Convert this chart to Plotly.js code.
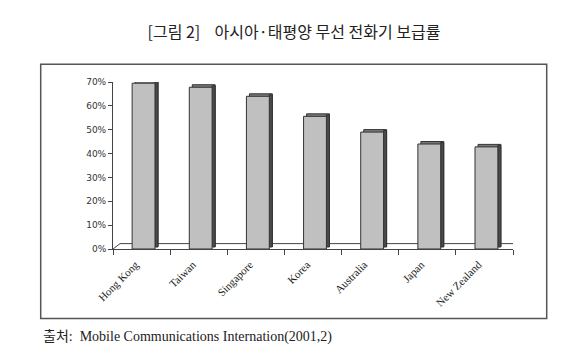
<!DOCTYPE html>
<html>
<head>
<meta charset="utf-8">
<script src="https://cdn.plot.ly/plotly-3.0.1.min.js"></script>
<style>
html,body{margin:0;padding:0;background:#fff;}
#chart{width:569px;height:363px;}
</style>
</head>
<body>
<div id="chart"></div>
<script>
const categories = ["Hong Kong", "Taiwan", "Singapore", "Korea", "Australia", "Japan", "New Zealand"];
const values = [0.695, 0.678, 0.640, 0.556, 0.490, 0.440, 0.428];
const yTickVals = [0, 0.1, 0.2, 0.3, 0.4, 0.5, 0.6, 0.7];
const yTickText = ["0%", "10%", "20%", "30%", "40%", "50%", "60%", "70%"];
const titleText = "[그림 2]\u00a0\u00a0\u00a0 아시아·태평양 무선 전화기 보급률";
const sourceText = "출처:\u00a0 Mobile Communications Internation(2001,2)";

// 3D look parameters (in axis units)
const barW = 0.4, barOff = -0.165;
const depthX = 0.053, depthY = 0.0105;

const topFace = {
  type: "bar", x: categories, y: values, base: depthY,
  offset: barOff + depthX, width: barW,
  marker: {color: "#7a7a7a", line: {color: "#333", width: 1}},
  hoverinfo: "skip", showlegend: false
};
const sideFace = {
  type: "bar", x: categories, y: values.map(v => v - depthY * 0.2), base: depthY * 0.8,
  offset: barOff + barW, width: depthX,
  marker: {color: "#4a4a4a", line: {color: "#333", width: 1}},
  hoverinfo: "skip", showlegend: false
};
const frontFace = {
  type: "bar", x: categories, y: values, base: 0,
  offset: barOff, width: barW,
  marker: {color: "#c0c0c0", line: {color: "#333", width: 1}},
  showlegend: false
};

const n = categories.length;
const floorDX = 0.1225, floorDY = 0.0226;
const floorPath = `M -0.5,0 L ${-0.5 + floorDX},${floorDY} L ${n - 0.5 + floorDX},${floorDY} L ${n - 0.5},0`;

const layout = {
  width: 569, height: 363,
  margin: {l: 113, r: 56, t: 82, b: 114},
  paper_bgcolor: "#fff", plot_bgcolor: "rgba(0,0,0,0)",
  barmode: "overlay",
  title: {
    text: titleText,
    font: {family: "Noto Sans CJK KR", size: 16, color: "#222"},
    x: 294 / 569, xanchor: "center", xref: "container",
    y: 1 - 32 / 363, yanchor: "middle", yref: "container"
  },
  xaxis: {
    type: "category", range: [-0.5, n - 0.5],
    showline: true, linecolor: "#444", linewidth: 1,
    ticks: "outside", tickson: "boundaries", ticklen: 5, tickcolor: "#444",
    tickangle: -45, showgrid: false, zeroline: false,
    ticklabelshift: -6, ticklabelstandoff: 4,
    tickfont: {family: "Liberation Serif", size: 11, color: "#222"},
    fixedrange: true
  },
  yaxis: {
    range: [0, 0.7],
    tickvals: yTickVals, ticktext: yTickText,
    showline: true, linecolor: "#444", linewidth: 1,
    ticks: "outside", ticklen: 4, tickcolor: "#444",
    showgrid: false, zeroline: false,
    tickfont: {family: "DejaVu Sans", size: 9, color: "#333"},
    fixedrange: true
  },
  shapes: [
    {type: "rect", xref: "paper", yref: "paper",
     x0: (40.7 - 113) / 400, x1: (546.7 - 113) / 400,
     y0: (249 - 318.5) / 167, y1: (249 - 64.3) / 167,
     line: {color: "#555", width: 1.5}, fillcolor: "rgba(0,0,0,0)", layer: "below"},
    {type: "path", xref: "x", yref: "y", path: floorPath,
     line: {color: "#444", width: 1}, fillcolor: "rgba(0,0,0,0)", layer: "below"}
  ],
  annotations: [
    {text: sourceText, xref: "paper", yref: "paper",
     x: (40.7 - 113) / 400, xanchor: "left",
     y: (249 - 337) / 167, yanchor: "middle",
     showarrow: false,
     font: {family: "Liberation Serif, Noto Sans CJK KR", size: 14, color: "#222"}}
  ]
};

Plotly.newPlot("chart", [topFace, sideFace, frontFace], layout, {displayModeBar: false, staticPlot: true});
</script>
</body>
</html>
